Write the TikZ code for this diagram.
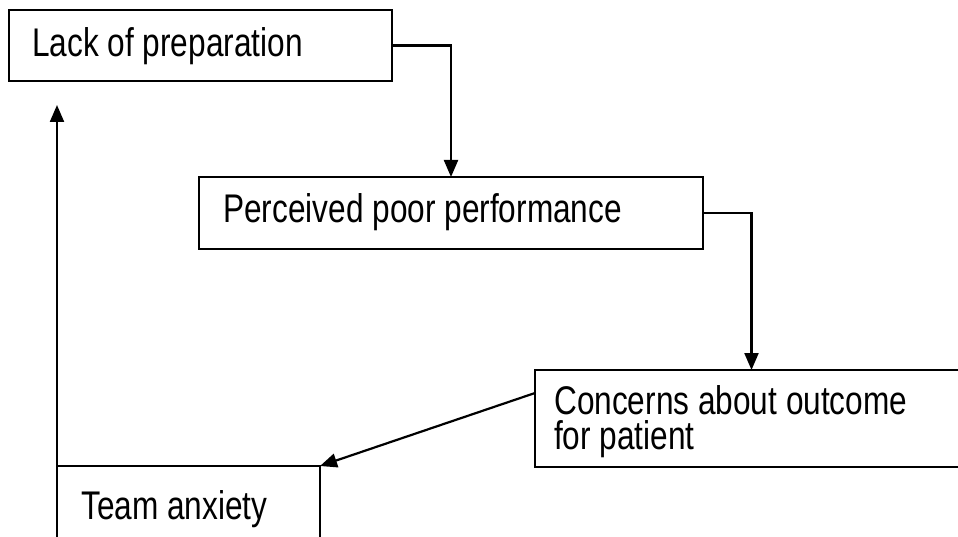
\documentclass[tikz,border=0pt]{standalone}
\usepackage{fontspec}
\setmainfont[FakeStretch=0.79]{Liberation Sans}
\usetikzlibrary{arrows.meta,calc}
\begin{document}
\begin{tikzpicture}[x=1pt,y=-1pt,
  box/.style={draw=black,line width=1.8pt,rectangle,inner sep=0pt,outer sep=0pt,anchor=north west},
  txt/.style={inner sep=0pt,anchor=base west,align=left,font=\fontsize{40}{35}\selectfont},
  conn/.style={draw=black,line width=2.2pt,-{Triangle[length=17pt,width=14pt]}}]
\useasboundingbox (0,0) rectangle (958,537);
\node[box,minimum width=383pt,minimum height=71pt] (b1) at (9,10) {};
\node[box,minimum width=504pt,minimum height=72pt] (b2) at (199,177) {};
\node[box,minimum width=433pt,minimum height=97pt] (b3) at (535,370) {};
\node[box,minimum width=263pt,minimum height=100pt] (b4) at (57,466) {};
\node[txt] (t1) at (32,57) {Lack of preparation};
\node[txt] (t2) at (223,223) {Perceived poor performance};
\node[txt,anchor=north west] (t3) at (554,385) {Concerns about outcome\\for patient};
\node[txt] (t4) at (81,519) {Team anxiety};
\coordinate (top4) at (57,105);
\draw[conn] (b1.east) -| (b2.north);
\draw[conn] (b2.east) -| (b3.north);
\draw[conn] ($(b3.north west)+(0,23)$) -- (b4.north east);
\draw[conn] (b4.south west) -- (top4);
\end{tikzpicture}
\end{document}
